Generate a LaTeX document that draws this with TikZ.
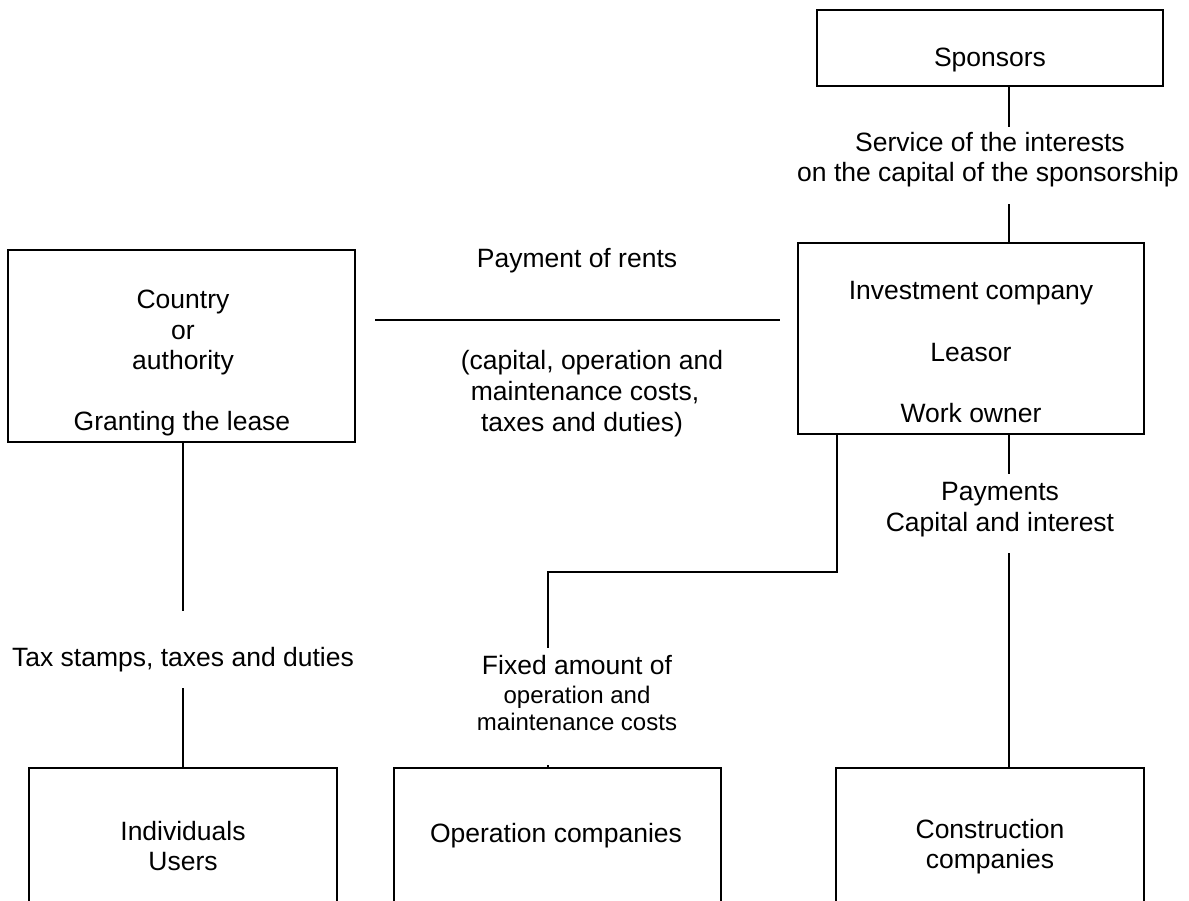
\documentclass[tikz,border=0pt]{standalone}
\usepackage{fontspec}
\setmainfont{Liberation Sans}
\newcommand\bigtxt{\fontsize{26.5}{30}\selectfont}
\newcommand\smalltxt{\fontsize{24}{27}\selectfont}
\begin{document}
\begin{tikzpicture}[x=1pt,y=-1pt,
  box/.style={draw, line width=1.8pt, inner sep=0pt, outer sep=0pt},
  lbl/.style={font=\bigtxt, anchor=base, inner sep=0pt},
  slbl/.style={font=\smalltxt, anchor=base, inner sep=0pt},
  link/.style={line width=1.8pt}]
\useasboundingbox (0,0) rectangle (1189,900);

% boxes
\node[box, minimum width=346pt, minimum height=76pt]  (sponsors) at (990,48) {};
\node[box, minimum width=346pt, minimum height=191pt] (invest)   at (971,338.5) {};
\node[box, minimum width=347pt, minimum height=192pt] (country)  at (181.5,346) {};
\node[box, minimum width=308pt, minimum height=142pt] (users)    at (183,839) {};
\node[box, minimum width=327pt, minimum height=142pt] (operate)  at (557.5,839) {};
\node[box, minimum width=308pt, minimum height=142pt] (build)    at (990,839) {};

% box texts
\node[lbl] (tSponsors) at (990,66) {Sponsors};
\node[lbl] (tInv1) at (971,299) {Investment company};
\node[lbl] (tInv2) at (971,361) {Leasor};
\node[lbl] (tInv3) at (971,422) {Work owner};
\node[lbl] (tCou1) at (183,308) {Country};
\node[lbl] (tCou2) at (183,339) {or};
\node[lbl] (tCou3) at (183,369) {authority};
\node[lbl] (tCou4) at (182,430) {Granting the lease};
\node[lbl] (tUse1) at (183,840) {Individuals};
\node[lbl] (tUse2) at (183,870) {Users};
\node[lbl] (tOpe1) at (556,842) {Operation companies};
\node[lbl] (tCon1) at (990,838) {Construction};
\node[lbl] (tCon2) at (990,868) {companies};

% connector labels
\node[lbl] (tSvc1) at (990,151) {Service of the interests};
\node[lbl] (tSvc2) at (988,181) {on the capital of the sponsorship};
\node[lbl] (tRent1) at (577,267) {Payment of rents};
\node[lbl] (tRent2) at (592,369) {(capital, operation and};
\node[lbl] (tRent3) at (585,400) {maintenance costs,};
\node[lbl] (tRent4) at (582,431) {taxes and duties)};
\node[lbl] (tPay1) at (1000,500) {Payments};
\node[lbl] (tPay2) at (1000,531) {Capital and interest};
\node[lbl] (tTax) at (183,666) {Tax stamps, taxes and duties};
\node[lbl] (tFix1) at (577,674) {Fixed amount of};
\node[slbl] (tFix2) at (577,703) {operation and};
\node[slbl] (tFix3) at (577,730) {maintenance costs};

% connector break points
\coordinate (svcA) at (1009,127);
\coordinate (svcB) at (1009,204);
\coordinate (payA) at (1009,474);
\coordinate (payB) at (1009,553);
\coordinate (taxA) at (183,611);
\coordinate (taxB) at (183,688);
\coordinate (rentL) at (375,320);
\coordinate (rentR) at (780,320);
\coordinate (opA) at (837,572);
\coordinate (opB) at (548,572);
\coordinate (opC) at (548,648);
\coordinate (opD) at (548,765);

% connectors
\draw[link] (sponsors.south -| svcA) -- (svcA);
\draw[link] (svcB) -- (svcB |- invest.north);
\draw[link] (invest.south -| payA) -- (payA);
\draw[link] (payB) -- (payB |- build.north);
\draw[link] (country.south -| taxA) -- (taxA);
\draw[link] (taxB) -- (taxB |- users.north);
\draw[link] (rentL) -- (rentR);
\draw[link] (invest.south -| opA) -- (opA) -- (opB) -- (opC);
\draw[link] (opD) -- (opD |- operate.north);
\end{tikzpicture}
\end{document}
